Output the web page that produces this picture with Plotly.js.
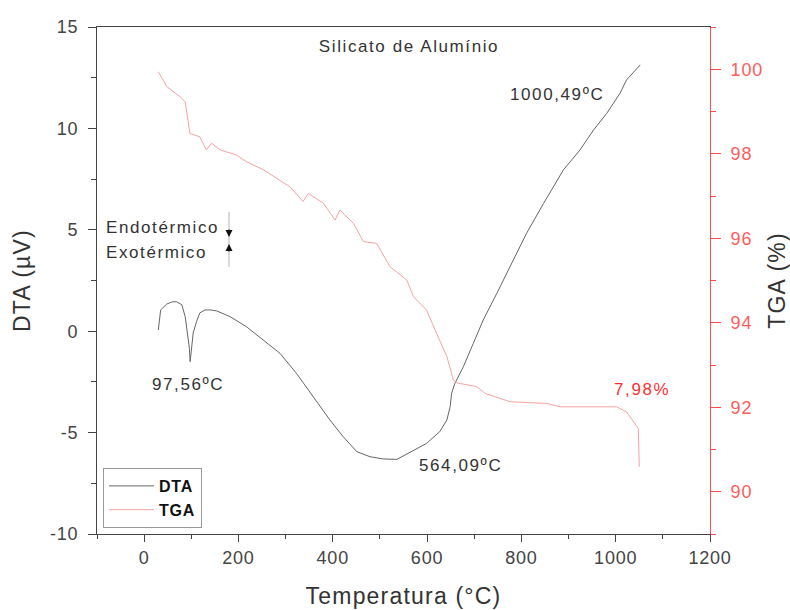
<!DOCTYPE html>
<html>
<head>
<meta charset="utf-8">
<script src="https://cdn.plot.ly/plotly-3.0.1.min.js"></script>
<style>
html,body{margin:0;padding:0;background:#fff;}
svg text { letter-spacing: 0.8px; }
svg text.annotation-text, svg text.gtitle { letter-spacing: 1.6px; }
svg text.xtitle, svg text.ytitle, svg text.y2title { letter-spacing: 1.2px; }
</style>
</head>
<body>
<div id="chart" style="width:790px;height:610px;"></div>
<script>
// DTA curve: temperature (°C) and signal (µV)
const dtaTemp = [30, 35, 48, 60, 69, 80, 87, 92, 96, 97.5, 101, 104, 111, 118, 129, 140, 154, 182, 217, 252, 288, 323, 359, 394, 422, 451, 479, 507, 536, 557, 571, 599, 627, 642, 649, 652, 659, 677, 698, 719, 748, 776, 811, 847, 889, 924, 953, 981, 1009, 1023, 1052];
const dtaSignal = [0.06, 1.05, 1.34, 1.45, 1.45, 1.3, 0.72, -0.1, -0.84, -1.5, -0.83, -0.09, 0.47, 0.9, 1.05, 1.05, 1.0, 0.72, 0.22, -0.43, -1.09, -2.08, -3.23, -4.38, -5.2, -5.94, -6.19, -6.3, -6.32, -6.05, -5.86, -5.53, -4.95, -4.38, -3.72, -3.06, -2.57, -1.75, -0.6, 0.55, 1.87, 3.18, 4.83, 6.3, 7.95, 8.93, 9.92, 10.74, 11.73, 12.39, 13.13];

// TGA curve: temperature (°C) and mass (%)
const tgaTemp = [30, 48, 76, 87, 97, 118, 132, 143, 161, 196, 217, 253, 281, 309, 337, 348, 380, 405, 415, 444, 465, 493, 521, 557, 571, 599, 620, 642, 656, 666, 705, 723, 776, 854, 882, 1002, 1023, 1048, 1050];
const tgaMass = [99.94, 99.59, 99.35, 99.23, 98.48, 98.40, 98.09, 98.25, 98.09, 97.97, 97.81, 97.62, 97.42, 97.22, 96.87, 97.06, 96.83, 96.43, 96.67, 96.35, 95.92, 95.88, 95.33, 95.01, 94.62, 94.30, 93.75, 93.2, 92.64, 92.57, 92.49, 92.33, 92.13, 92.09, 92.01, 92.01, 91.89, 91.50, 90.59];

// Tick labels
const dtaTickVals = [-10, -5, 0, 5, 10, 15];
const dtaTickText = ["-10", "-5", "0", "5", "10", "15"];
const tgaTickVals = [90, 92, 94, 96, 98, 100];

// Labels
const peakLabels = ["97,56ºC", "564,09ºC", "1000,49ºC"];
const massLossLabel = "7,98%";

const FONT = "Liberation Sans, Arial, sans-serif";

const traces = [
  {x: dtaTemp, y: dtaSignal, name: "DTA", type: "scatter", mode: "lines",
   line: {color: "#666666", width: 1}},
  {x: tgaTemp, y: tgaMass, name: "TGA", type: "scatter", mode: "lines", yaxis: "y2",
   line: {color: "#f6a3a3", width: 1}}
];

function px2paperX(px){ return (px - 97) / 613; }
function px2paperY(py){ return (534 - py) / 507; }

const layout = {
  width: 790, height: 610,
  margin: {l: 97, r: 80, t: 27, b: 76},
  paper_bgcolor: "#fff", plot_bgcolor: "#fff",
  font: {family: FONT, color: "#333"},
  showlegend: true,
  title: {text: "Silicato de Alumínio", font: {family: FONT, size: 17, color: "#333"},
          x: 409/790, xanchor: "center", y: 1 - 46/610, yanchor: "middle"},
  xaxis: {
    range: [-100, 1200], tick0: 0, dtick: 200,
    showgrid: false, zeroline: false,
    showline: true, linecolor: "#444", linewidth: 1, mirror: true,
    ticks: "outside", ticklen: 7, tickcolor: "#444", tickwidth: 1,
    minor: {dtick: 100, tick0: 0, ticks: "outside", ticklen: 4, tickcolor: "#444"},
    tickfont: {family: FONT, size: 18, color: "#444"},
    title: {text: "Temperatura (°C)", font: {family: FONT, size: 23, color: "#333"}, standoff: 21}
  },
  yaxis: {
    range: [-10, 15], tickvals: dtaTickVals, ticktext: dtaTickText,
    showgrid: false, zeroline: false,
    showline: true, linecolor: "#444", linewidth: 1,
    ticks: "outside", ticklen: 8, tickcolor: "#444", tickwidth: 1,
    minor: {dtick: 2.5, tick0: 0, ticks: "outside", ticklen: 5, tickcolor: "#444"},
    tickfont: {family: FONT, size: 18, color: "#444"},
    ticklabelstandoff: 6,
    title: {text: "DTA (µV)", font: {family: FONT, size: 23, color: "#333"}, standoff: 12}
  },
  yaxis2: {
    overlaying: "y", side: "right", anchor: "x",
    range: [89, 101], tickvals: tgaTickVals,
    showgrid: false, zeroline: false,
    showline: true, linecolor: "#ff4d4d", linewidth: 1,
    ticks: "outside", ticklen: 10, tickcolor: "#ff4d4d", tickwidth: 1,
    minor: {dtick: 1, tick0: 0, ticks: "outside", ticklen: 5, tickcolor: "#ff4d4d"},
    tickfont: {family: FONT, size: 18, color: "#ff5c5c"},
    ticklabelstandoff: 6,
    title: {text: "TGA (%)", font: {family: FONT, size: 23, color: "#333"}, standoff: 7}
  },
  legend: {
    x: px2paperX(103), y: px2paperY(468), xanchor: "left", yanchor: "top",
    bgcolor: "rgba(255,255,255,0)", bordercolor: "#9a9a9a", borderwidth: 1,
    font: {family: FONT, size: 16, color: "#111", weight: "bold"},
    itemwidth: 45, tracegroupgap: 0
  },
  shapes: [
    {type: "line", xref: "paper", yref: "paper",
     x0: px2paperX(229), x1: px2paperX(229), y0: px2paperY(212), y1: px2paperY(267),
     line: {color: "#b5b5b5", width: 1}}
  ],
  annotations: [
    {text: peakLabels[0], x: 93, y: -2.65, xref: "x", yref: "y", showarrow: false,
     font: {family: FONT, size: 17, color: "#333"}},
    {text: peakLabels[1], x: 670, y: -6.6, xref: "x", yref: "y", showarrow: false,
     font: {family: FONT, size: 17, color: "#333"}},
    {text: peakLabels[2], x: 876, y: 11.65, xref: "x", yref: "y", showarrow: false,
     font: {family: FONT, size: 17, color: "#333"}},
    {text: massLossLabel, x: 1056, y: 92.41, xref: "x", yref: "y2", showarrow: false,
     font: {family: FONT, size: 17, color: "#ff3030"}},
    {text: "Endotérmico", x: px2paperX(104), y: px2paperY(227), xref: "paper", yref: "paper",
     xanchor: "left", yanchor: "middle", showarrow: false,
     font: {family: FONT, size: 17, color: "#333"}},
    {text: "Exotérmico", x: px2paperX(104), y: px2paperY(253), xref: "paper", yref: "paper",
     xanchor: "left", yanchor: "middle", showarrow: false,
     font: {family: FONT, size: 17, color: "#333"}},
    {text: "", x: px2paperX(229), y: px2paperY(237), xref: "paper", yref: "paper",
     showarrow: true, ax: 0, ay: -9, arrowhead: 2, arrowsize: 1, arrowwidth: 1.4, arrowcolor: "#111"},
    {text: "", x: px2paperX(229), y: px2paperY(244), xref: "paper", yref: "paper",
     showarrow: true, ax: 0, ay: 9, arrowhead: 2, arrowsize: 1, arrowwidth: 1.4, arrowcolor: "#111"}
  ]
};

Plotly.newPlot("chart", traces, layout, {displayModeBar: false, staticPlot: true});
</script>
</body>
</html>
